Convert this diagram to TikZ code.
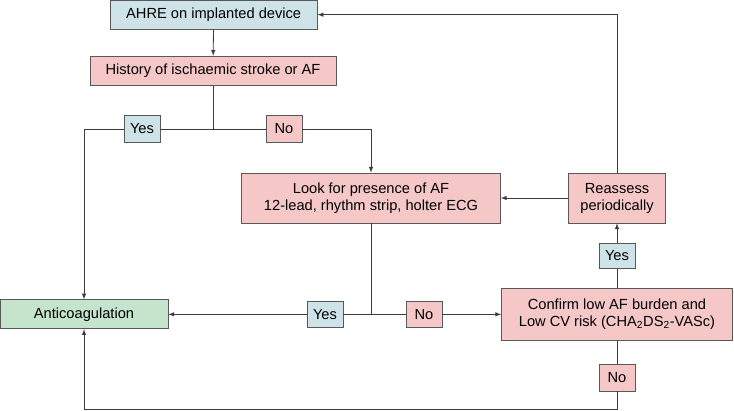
\documentclass[tikz,border=0pt]{standalone}
\usepackage{fontspec}
\setmainfont{Liberation Sans}
\usetikzlibrary{arrows,positioning}

\definecolor{boxBlue}{RGB}{206,227,231}
\definecolor{boxPink}{RGB}{245,199,199}
\definecolor{boxGreen}{RGB}{196,228,204}
\definecolor{lineGray}{RGB}{60,60,60}

\tikzset{
  flowBox/.style={draw=lineGray!85, line width=0.6pt, inner sep=0pt, align=center,
    font=\fontsize{12.5}{14.5}\selectfont},
  blueBox/.style={flowBox, fill=boxBlue},
  pinkBox/.style={flowBox, fill=boxPink},
  greenBox/.style={flowBox, fill=boxGreen},
  answer/.style={minimum width=1.08cm, minimum height=0.8cm},
  link/.style={draw=lineGray, line width=0.7pt}
}

\begin{document}
\begin{tikzpicture}[>=latex]
\useasboundingbox (0,0) rectangle (22.02,12.33);

\node[blueBox, minimum width=6.21cm, minimum height=0.86cm] (ahreDev) at (6.41,11.89) {AHRE on implanted device};
\node[pinkBox, minimum width=7.38cm, minimum height=0.87cm] (histStroke) at (6.39,10.21) {History of ischaemic stroke or AF};

\node[blueBox, answer] (yesHist) at (4.26,8.46) {Yes};
\node[pinkBox, answer] (noHist) at (8.52,8.46) {No};

\node[pinkBox, minimum width=7.77cm, minimum height=1.5cm] (lookAF) at (11.13,6.39) {Look for presence of AF\\12-lead, rhythm strip, holter ECG};
\node[pinkBox, minimum width=2.91cm, minimum height=1.5cm] (reassess) at (18.51,6.39) {Reassess\\periodically};

\node[blueBox, answer, minimum height=0.76cm] (yesReass) at (18.51,4.65) {Yes};

\node[greenBox, minimum width=5.04cm, minimum height=0.87cm] (anticoag) at (2.52,2.9) {Anticoagulation};
\node[blueBox, answer] (yesLook) at (9.75,2.9) {Yes};
\node[pinkBox, answer] (noLook) at (12.72,2.9) {No};
\node[pinkBox, minimum width=6.93cm, minimum height=1.56cm] (confLow) at (18.51,2.9) {Confirm low AF burden and\\Low CV risk (CHA\textsubscript{2}DS\textsubscript{2}-VASc)};

\node[pinkBox, answer] (noConf) at (18.51,1.0) {No};

\coordinate (histSplit) at (6.39,8.46);
\coordinate (lookSplit) at (11.13,2.9);
\coordinate (bottomTurn) at (18.51,0.05);

% top of the chart
\draw[link,->] (ahreDev) -- (histStroke);
\draw[link] (histStroke) -- (histSplit);
\draw[link] (histSplit) -- (yesHist);
\draw[link] (histSplit) -- (noHist);
\draw[link,->] (yesHist.west) -| (anticoag.north);
\draw[link,->] (noHist.east) -| (lookAF.north);

% look for AF
\draw[link] (lookAF) -- (lookSplit);
\draw[link] (lookSplit) -- (yesLook);
\draw[link,->] (yesLook) -- (anticoag);
\draw[link] (lookSplit) -- (noLook);
\draw[link,->] (noLook) -- (confLow);

% low burden branch
\draw[link] (confLow) -- (yesReass);
\draw[link,->] (yesReass) -- (reassess);
\draw[link,->] (reassess) -- (lookAF);
\draw[link,->] (reassess.north) |- (ahreDev.east);
\draw[link] (confLow) -- (noConf);
\draw[link,->] (noConf) -- (bottomTurn) -| (anticoag.south);
\end{tikzpicture}
\end{document}
